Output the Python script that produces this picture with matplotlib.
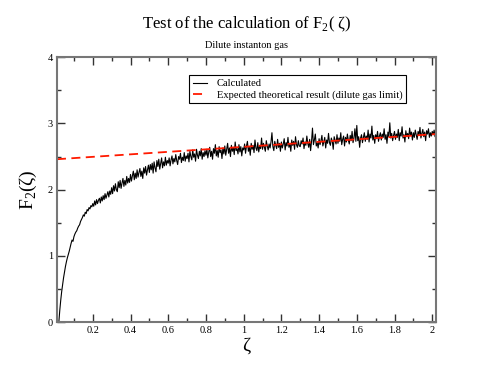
import numpy as np
import matplotlib
matplotlib.use("Agg")
import matplotlib.pyplot as plt
from matplotlib.ticker import MultipleLocator, FormatStrFormatter

plt.rcParams['font.family'] = ['Liberation Serif', 'DejaVu Serif']
plt.rcParams['mathtext.fontset'] = 'custom'
plt.rcParams['mathtext.rm'] = 'Liberation Serif'

# calculated F2(zeta), sampled every 0.005 starting at zeta = 0.02
zeta_start = 0.02
zeta_step = 0.005

f2_rise = [0.00, 0.18, 0.33, 0.46, 0.57, 0.67, 0.76, 0.84, 0.91, 0.97,
           1.02, 1.07, 1.13, 1.19, 1.24, 1.22, 1.29, 1.33, 1.36, 1.38,
           1.42, 1.45, 1.47, 1.52, 1.55, 1.58, 1.62, 1.60, 1.66, 1.64,
           1.70, 1.68, 1.73, 1.71, 1.76, 1.74]

f2_knee = [1.79, 1.75, 1.83, 1.77, 1.85, 1.79, 1.84, 1.87, 1.80, 1.89,
           1.83, 1.91, 1.85, 1.94, 1.87, 1.92, 1.97, 1.89, 1.98, 1.93,
           2.03, 1.94, 2.06, 1.98, 2.09, 2.00, 1.97, 2.12, 2.03, 2.14,
           2.02, 2.10, 2.17, 2.05, 2.14, 2.07, 2.20, 2.10, 2.17, 2.11,
           2.23, 2.13, 2.21, 2.28, 2.15, 2.25, 2.17, 2.30, 2.19, 2.26,
           2.32, 2.20, 2.28, 2.17, 2.33, 2.25, 2.35, 2.22, 2.30, 2.37,
           2.26, 2.38, 2.30, 2.40, 2.25, 2.42, 2.33, 2.27, 2.44, 2.35,
           2.46, 2.31, 2.40, 2.48, 2.33, 2.42, 2.36, 2.49, 2.37, 2.44]

f2_mid = [2.40, 2.48, 2.36, 2.45, 2.51, 2.39, 2.47, 2.42, 2.53, 2.44,
          2.38, 2.50, 2.46, 2.55, 2.41, 2.49, 2.44, 2.56, 2.43, 2.51,
          2.47, 2.55, 2.42, 2.58, 2.50, 2.45, 2.60, 2.49, 2.54, 2.43,
          2.61, 2.52, 2.47, 2.58, 2.51, 2.62, 2.46, 2.56, 2.50, 2.59,
          2.52, 2.61, 2.48, 2.57, 2.64, 2.50, 2.58, 2.46, 2.62, 2.55,
          2.68, 2.51, 2.59, 2.49, 2.65, 2.56, 2.60, 2.47, 2.63, 2.54,
          2.66, 2.52, 2.61, 2.70, 2.55, 2.63, 2.50, 2.67, 2.58, 2.64,
          2.53, 2.72, 2.59, 2.62, 2.54, 2.68, 2.57, 2.65, 2.51, 2.63,
          2.60, 2.69, 2.55, 2.66, 2.73, 2.58, 2.64, 2.52, 2.70, 2.61,
          2.67, 2.56, 2.75, 2.63, 2.59, 2.71, 2.57, 2.66, 2.62, 2.78,
          2.61, 2.70, 2.64, 2.58, 2.74, 2.66, 2.60, 2.69, 2.63, 2.72,
          2.86, 2.65, 2.59, 2.73, 2.67, 2.62, 2.76, 2.64, 2.70, 2.58]

f2_tail = [2.72, 2.63, 2.69, 2.77, 2.60, 2.71, 2.66, 2.79, 2.64, 2.70,
           2.58, 2.75, 2.67, 2.73, 2.61, 2.80, 2.68, 2.64, 2.74, 2.66,
           2.65, 2.74, 2.69, 2.78, 2.62, 2.72, 2.67, 2.81, 2.70, 2.64,
           2.76, 2.59, 2.73, 2.93, 2.68, 2.75, 2.84, 2.66, 2.71, 2.63,
           2.77, 2.68, 2.74, 2.82, 2.66, 2.72, 2.79, 2.63, 2.75, 2.70,
           2.85, 2.71, 2.67, 2.78, 2.73, 2.61, 2.80, 2.74, 2.69, 2.83,
           2.70, 2.78, 2.73, 2.86, 2.68, 2.76, 2.81, 2.66, 2.79, 2.72,
           2.84, 2.75, 2.69, 2.82, 2.74, 2.88, 2.71, 2.78, 2.92, 2.73,
           2.97, 2.74, 2.80, 2.64, 2.78, 2.83, 2.71, 2.79, 2.86, 2.73,
           2.81, 2.76, 2.90, 2.72, 2.84, 2.78, 2.96, 2.75, 2.82, 2.70,
           2.83, 2.77, 2.88, 2.73, 2.81, 2.86, 2.75, 2.84, 2.79, 2.92,
           2.76, 2.83, 2.70, 2.87, 2.80, 3.01, 2.78, 2.85, 2.74, 2.82,
           2.88, 2.76, 2.84, 2.79, 2.91, 2.74, 2.86, 2.81, 2.95, 2.78,
           2.83, 2.72, 2.89, 2.80, 2.85, 2.77, 2.93, 2.82, 2.87, 2.75,
           2.86, 2.79, 2.90, 2.83, 2.76, 2.88, 2.82, 2.94, 2.78, 2.85,
           2.91, 2.80, 2.87, 2.74, 2.89, 2.84, 2.92, 2.79, 2.86, 2.81,
           2.88, 2.83, 2.90, 2.80, 2.86]

# theoretical dilute gas limit (straight line)
theory_zeta = [0.01, 2.02]
theory_f2 = [2.46, 2.84]

f2 = np.array(f2_rise + f2_knee + f2_mid + f2_tail)
zeta = zeta_start + zeta_step * np.arange(len(f2))

fig = plt.figure(figsize=(4.91, 3.79), dpi=100)
ax = fig.add_axes([0.116, 0.150, 0.772, 0.699])

ax.plot(zeta, f2, color='black', lw=0.8, label='Calculated')
ax.plot(theory_zeta, theory_f2, color='#ff1a00', lw=1.3, dashes=(5, 3),
        label='Expected theoretical result (dilute gas limit)')

ax.set_xlim(0.01, 2.02)
ax.set_ylim(0, 4)
ax.xaxis.set_major_locator(MultipleLocator(0.2))
ax.xaxis.set_minor_locator(MultipleLocator(0.1))
ax.yaxis.set_major_locator(MultipleLocator(1))
ax.yaxis.set_minor_locator(MultipleLocator(0.5))
ax.xaxis.set_major_formatter(FormatStrFormatter('%g'))
ax.yaxis.set_major_formatter(FormatStrFormatter('%g'))

ax.tick_params(which='both', direction='in', top=True, right=True,
               labelsize=7.5, color='#333333', pad=3)
ax.tick_params(which='major', length=6, width=1)
ax.tick_params(which='minor', length=3, width=1)
for s in ax.spines.values():
    s.set_color('#777777')
    s.set_linewidth(1.5)

ax.set_xlabel('ζ', fontsize=14, labelpad=2)
ax.set_ylabel('F$_2$(ζ)', fontsize=14, labelpad=6)

fig.text(0.503, 0.925, 'Test of the calculation of F$_2$( ζ)', ha='center',
         va='baseline', fontsize=12)
fig.text(0.503, 0.873, 'Dilute instanton gas', ha='center', va='baseline',
         fontsize=7.5)

leg = ax.legend(loc='upper left', bbox_to_anchor=(0.348, 0.932), fontsize=7.6,
                handlelength=1.4, handletextpad=0.9, borderpad=0.35,
                labelspacing=0.15, fancybox=False, framealpha=1,
                borderaxespad=0)
leg.get_frame().set_edgecolor('black')
leg.get_frame().set_linewidth(0.8)

fig.savefig('out.png', dpi=100)
